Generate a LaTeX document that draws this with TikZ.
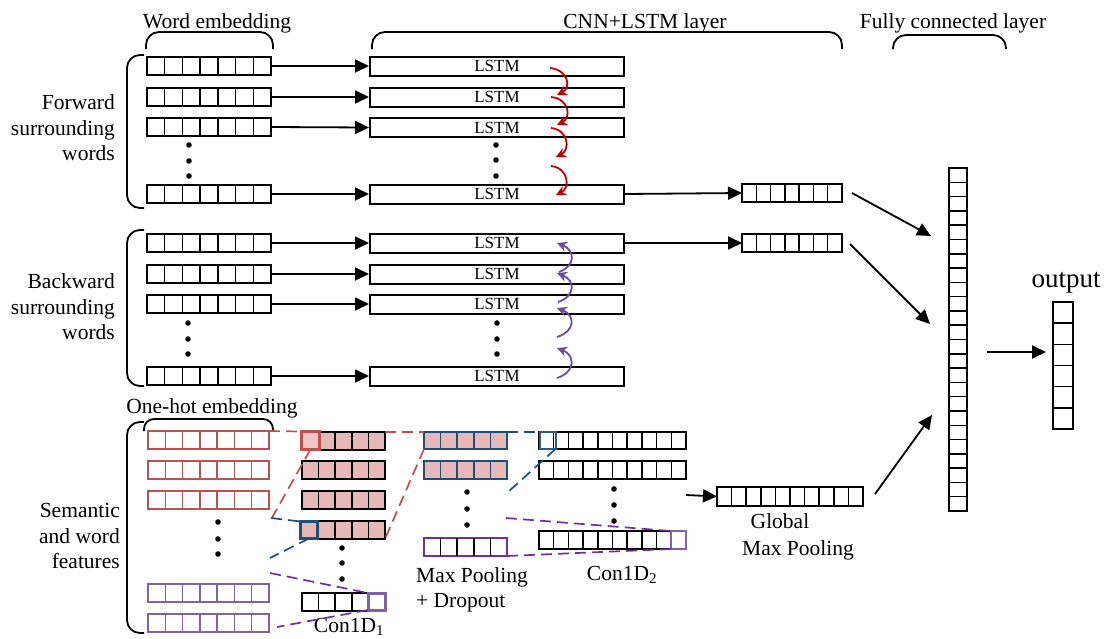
\documentclass[tikz,border=0pt]{standalone}
\usepackage{fontspec}
\setmainfont{Liberation Serif}
\usetikzlibrary{calc,arrows.meta}
\definecolor{cred}{HTML}{C0504D}
\definecolor{arrred}{HTML}{C00000}
\definecolor{cpink}{HTML}{E6B9B8}
\definecolor{cblue}{HTML}{1F4E79}
\definecolor{cblueb}{HTML}{2E5C8A}
\definecolor{cpurp}{HTML}{7030A0}
\definecolor{lpurp}{HTML}{8064A2}
\definecolor{apurp}{HTML}{6B4C9A}
\tikzset{
  cellbox/.style={draw, line width=2pt, inner sep=0pt, outer sep=0pt},
  sepline/.style={line width=1.5pt},
  arr/.style={line width=1.8pt, -{Triangle[length=14pt,width=13pt]}},
  lstm/.style={draw, line width=2pt, minimum width=254pt, minimum height=19pt, inner sep=0pt, font=\fontsize{17}{20}\selectfont},
  lbl/.style={font=\fontsize{21.5}{25.5}\selectfont, inner sep=0pt},
  brace/.style={line width=1.8pt, rounded corners=13pt},
  redarr/.style={arrred, line width=1.8pt, -{Stealth[length=10pt,width=10pt]}},
  purarr/.style={apurp, line width=1.8pt, -{Stealth[length=10pt,width=10pt]}},
  rdash/.style={cred, line width=1.7pt, dash pattern=on 11pt off 6pt},
  bdash/.style={cblue, line width=1.7pt, dash pattern=on 11pt off 6pt},
  pdash/.style={cpurp, line width=1.7pt, dash pattern=on 11pt off 6pt},
  hlcell/.style={draw, line width=3pt, inner sep=0pt, outer sep=0pt, minimum size=17pt},
}
% #1 box style, #2 separator style, #3 name, #4 x1, #5 y1, #6 x2, #7 y2, #8 cells
\newcommand{\hcells}[8]{%
  \node[cellbox,#1,minimum width={(#6)-(#4)},minimum height={(#7)-(#5)}] (#3) at ({((#4)+(#6))/2},{((#5)+(#7))/2}) {};
  \pgfmathtruncatemacro\nmcells{#8-1}
  \foreach \k in {1,...,\nmcells} {\draw[sepline,#2] ($(#3.north west)!\k/#8!(#3.north east)$) -- ($(#3.south west)!\k/#8!(#3.south east)$);}
}
\newcommand{\vcells}[8]{%
  \node[cellbox,#1,minimum width={(#6)-(#4)},minimum height={(#7)-(#5)}] (#3) at ({((#4)+(#6))/2},{((#5)+(#7))/2}) {};
  \pgfmathtruncatemacro\nmcells{#8-1}
  \foreach \k in {1,...,\nmcells} {\draw[sepline,#2] ($(#3.north west)!\k/#8!(#3.south west)$) -- ($(#3.north east)!\k/#8!(#3.south east)$);}
}
\begin{document}
\begin{tikzpicture}[x=1pt,y=-1pt]
\useasboundingbox (0,0) rectangle (1104,638);

% ---------- top labels and braces
\node[lbl,anchor=base] (tword) at (217,28) {Word embedding};
\node[lbl,anchor=base] (tcnn) at (645,28) {CNN+LSTM layer};
\node[lbl,anchor=base] (tfc) at (953,28) {Fully connected layer};
\draw[brace] (146,49) -- (146,32) -- (273,32) -- (273,49);
\draw[brace] (372,49) -- (372,32) -- (842,32) -- (842,49);
\draw[brace] (893,49) -- (893,35) -- (1006,35) -- (1006,49);

% ---------- left labels and braces
\node[lbl,align=right,anchor=east] (lfw) at (115,128) {Forward\\surrounding\\words};
\node[lbl,align=right,anchor=east] (lbw) at (115,307) {Backward\\surrounding\\words};
\node[lbl,align=right,anchor=east] (lsem) at (120,536) {Semantic\\and word\\features};
\draw[brace] (144,55) -- (127,55) -- (127,208) -- (144,208);
\draw[brace] (144,230) -- (127,230) -- (127,386) -- (144,386);
\draw[brace] (144,422) -- (127,422) -- (127,633) -- (144,633);

% ---------- forward words
\hcells{}{}{fw1}{147}{57}{271}{75}{7}
\hcells{}{}{fw2}{147}{88}{271}{106}{7}
\hcells{}{}{fw3}{147}{118}{271}{136}{7}
\hcells{}{}{fw4}{147}{185}{271}{203}{7}
\foreach \yy in {145,161,176} \fill (189,\yy) circle (2.8pt);

\node[lstm] (f1) at (497,66) {LSTM};
\node[lstm] (f2) at (497,97) {LSTM};
\node[lstm] (f3) at (497,127.5) {LSTM};
\node[lstm] (f4) at (497,194) {LSTM};
\foreach \yy in {145,160,176} \fill (496,\yy) circle (2.8pt);

\draw[arr] (fw1.east) -- (f1.west);
\draw[arr] (fw2.east) -- (f2.west);
\draw[arr] (fw3.east) -- (f3.west);
\draw[arr] (fw4.east) -- (f4.west);

\coordinate (r1a) at (550,68);  \coordinate (r1b) at (557,95);
\coordinate (r2a) at (551,97);  \coordinate (r2b) at (557,125);
\coordinate (r3a) at (551,128); \coordinate (r3b) at (556,157);
\coordinate (r4a) at (551,166); \coordinate (r4b) at (556,195);
\draw[redarr] (r1a) .. controls (569,70) and (571,88) .. (r1b);
\draw[redarr] (r2a) .. controls (570,99) and (571,118) .. (r2b);
\draw[redarr] (r3a) .. controls (569,130) and (570,150) .. (r3b);
\draw[redarr] (r4a) .. controls (569,168) and (570,188) .. (r4b);

% ---------- backward words
\hcells{}{}{bw1}{147}{234}{271}{252}{7}
\hcells{}{}{bw2}{147}{265}{271}{283}{7}
\hcells{}{}{bw3}{147}{295}{271}{313}{7}
\hcells{}{}{bw4}{147}{367}{271}{385}{7}
\foreach \yy in {323,339,354} \fill (188,\yy) circle (2.8pt);

\node[lstm] (b1) at (497,243) {LSTM};
\node[lstm] (b2) at (497,274) {LSTM};
\node[lstm] (b3) at (497,304) {LSTM};
\node[lstm] (b4) at (497,376) {LSTM};
\foreach \yy in {323,339,354} \fill (497,\yy) circle (2.8pt);

\draw[arr] (bw1.east) -- (b1.west);
\draw[arr] (bw2.east) -- (b2.west);
\draw[arr] (bw3.east) -- (b3.west);
\draw[arr] (bw4.east) -- (b4.west);

\coordinate (p1a) at (559,272); \coordinate (p1b) at (557,243);
\coordinate (p2a) at (558,302); \coordinate (p2b) at (557,273);
\coordinate (p3a) at (557,337); \coordinate (p3b) at (557,308);
\coordinate (p4a) at (557,378); \coordinate (p4b) at (557,348);
\draw[purarr] (p1a) .. controls (576,266) and (575,250) .. (p1b);
\draw[purarr] (p2a) .. controls (576,296) and (575,280) .. (p2b);
\draw[purarr] (p3a) .. controls (576,331) and (575,315) .. (p3b);
\draw[purarr] (p4a) .. controls (576,372) and (575,355) .. (p4b);

% ---------- fully connected
\hcells{}{}{fc1}{742}{184}{842}{202}{7}
\hcells{}{}{fc2}{742}{234}{842}{252}{7}
\draw[arr] (f4.east) -- (fc1.west);
\draw[arr] (b1.east) -- (fc2.west);

\vcells{}{}{fcc}{949}{168}{967}{511}{24}
\vcells{}{}{oc}{1053}{302}{1073}{429}{6}
\node[font=\fontsize{27}{30}\selectfont,inner sep=0pt,anchor=base] (tout) at (1066,287) {output};

\coordinate (c1s) at (852,193); \coordinate (c1e) at (931,236);
\coordinate (c2s) at (850,244); \coordinate (c2e) at (930,324);
\coordinate (c3s) at (875,494); \coordinate (c3e) at (932,415);
\coordinate (ois) at (987,352); \coordinate (oie) at (1046,352);
\draw[arr] (c1s) -- (c1e);
\draw[arr] (c2s) -- (c2e);
\draw[arr] (c3s) -- (c3e);
\draw[arr] (ois) -- (oie);

% ---------- semantic / one-hot
\node[lbl,anchor=base] (toh) at (212,413) {One-hot embedding};
\draw[brace,rounded corners=10pt] (144,431) -- (144,419) -- (273,419) -- (273,431);

\hcells{draw=cred}{cred}{oh1}{148}{431}{269}{449}{7}
\hcells{draw=cred}{cred}{oh2}{148}{461}{269}{479}{7}
\hcells{draw=cred}{cred}{oh3}{148}{491}{269}{509}{7}
\hcells{draw=lpurp}{lpurp}{ohp1}{148}{584}{269}{602}{7}
\hcells{draw=lpurp}{lpurp}{ohp2}{148}{614}{269}{632}{7}
\foreach \yy in {522,539,554} \fill (218,\yy) circle (2.8pt);

% Con1D1
\hcells{fill=cpink}{}{ca1}{302}{432}{385}{450}{5}
\hcells{fill=cpink}{}{ca2}{302}{461}{385}{479}{5}
\hcells{fill=cpink}{}{ca3}{302}{491}{385}{509}{5}
\hcells{fill=cpink}{}{ca4}{302}{521}{385}{539}{5}
\hcells{}{}{ca5}{302}{593}{385}{611}{5}
\foreach \yy in {548,563,579} \fill (342,\yy) circle (2.8pt);
\node[hlcell,draw=cred,fill=cpink!80!white,minimum size=18pt] (hr) at (310.5,440.5) {};
\node[hlcell,draw=cblue,fill=cpink] (hb) at (309,530) {};
\node[hlcell,draw=lpurp,fill=white] (hp) at (376.5,601.5) {};
\node[lbl,anchor=base] (tc1) at (349,632) {Con1D\textsubscript{1}};

% Max pooling
\hcells{fill=cpink,draw=cblue}{cblue}{mp1}{424}{432}{507}{449}{5}
\hcells{fill=cpink,draw=cblue}{cblue}{mp2}{424}{461}{507}{479}{5}
\hcells{draw=cpurp}{}{mp3}{424}{538}{507}{556}{5}
\foreach \yy in {492,509,525} \fill (467,\yy) circle (2.8pt);
\node[lbl,anchor=base west] (tmp1) at (416,582) {Max Pooling};
\node[lbl,anchor=base west] (tmp2) at (416,607) {+ Dropout};

% Con1D2
\hcells{}{}{cb1}{539}{432}{686}{449}{10}
\hcells{}{}{cb2}{539}{461}{686}{479}{10}
\hcells{}{}{cb3}{539}{531}{686}{549}{10}
\foreach \yy in {489,505,521} \fill (614,\yy) circle (2.8pt);
\node[draw=cblueb,line width=2pt,inner sep=0pt,outer sep=0pt,minimum width=16pt,minimum height=17pt] (hb2) at (547.5,440.5) {};
\node[draw=lpurp,fill=white,line width=2pt,inner sep=0pt,outer sep=0pt,minimum width=15pt,minimum height=18pt] (hp2) at (678.5,540) {};
\node[lbl,anchor=base] (tc2) at (622,580) {Con1D\textsubscript{2}};

% Global max pooling
\hcells{}{}{gm}{717}{487}{863}{506}{10}
\coordinate (gin) at (686,495);
\draw[arr] (gin) -- (gm.west);
\node[lbl,anchor=base] (tg1) at (780,528) {Global};
\node[lbl,anchor=base] (tg2) at (798,555) {Max Pooling};

% ---------- dashed projection lines
\coordinate (rd1) at (269,523);
\draw[rdash] (oh1.north east) -- (hr.north west);
\draw[rdash] (hr.south) -- (rd1);
\draw[rdash] (ca1.north east) -- (mp1.north west);
\draw[rdash] (mp1.south west) -- (ca4.south east);

\coordinate (bd1) at (271,518);
\coordinate (bd2) at (270,558);
\coordinate (bd3) at (508,492);
\draw[bdash] (bd1) -- (hb.north west);
\draw[bdash] (hb.south) -- (bd2);
\draw[bdash] (mp1.north east) -- (hb2.north west);
\draw[bdash] (hb2.south east) -- (bd3);

\coordinate (pd1) at (270,573);
\coordinate (pd2) at (277,627);
\coordinate (pd3) at (506,518);
\draw[pdash] (pd1) -- (hp.north west);
\draw[pdash] (hp.south west) -- (pd2);
\draw[pdash] (pd3) -- (hp2.north west);
\draw[pdash] (mp3.south east) -- (hp2.south west);
\end{tikzpicture}
\end{document}
